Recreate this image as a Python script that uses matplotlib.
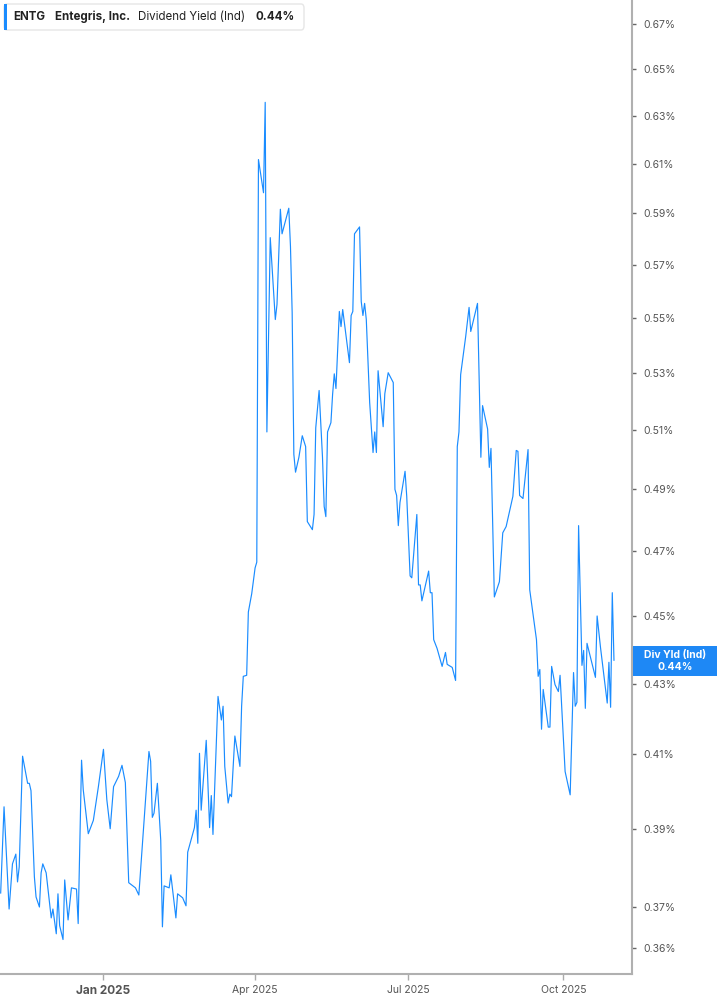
import numpy as np
import pandas as pd
import matplotlib
matplotlib.use('Agg')
import matplotlib.pyplot as plt
import matplotlib.ticker as ticker
from matplotlib.patches import FancyBboxPatch, Rectangle

plt.rcParams['font.family'] = ['Inter', 'DejaVu Sans']

# days counted from 2025-01-01, dividend yield in percent
day_offsets = [
    -61, -59, -56, -54, -52, -51, -50, -48, -45, -44, -43, -41, -40, -38, -37, -36,
    -34, -31, -30, -28, -27, -26, -24, -23, -21, -19, -16, -15, -13, -12, -9, -6,
    -3, 0, 2, 4, 6, 9, 11, 13, 15, 19, 21, 27, 28, 29, 30, 32,
    34, 35, 36, 39, 40, 43, 44, 47, 49, 50, 54, 55, 56, 57, 58, 61,
    63, 64, 65, 68, 70, 71, 72, 74, 75, 76, 78, 81, 82, 83, 85, 86,
    88, 90, 91, 92, 95, 96, 97, 99, 102, 103, 105, 106, 110, 111, 112, 113,
    114, 116, 118, 120, 121, 124, 125, 126, 128, 130, 131, 132, 133, 135, 136, 137,
    138, 140, 141, 142, 146, 147, 148, 149, 152, 153, 154, 155, 156, 158, 160, 161,
    162, 163, 166, 167, 169, 172, 173, 174, 175, 176, 179, 180, 182, 183, 186, 187,
    188, 189, 193, 194, 195, 196, 198, 201, 203, 204, 207, 209, 210, 211, 212, 215,
    217, 218, 222, 224, 225, 228, 229, 230, 232, 235, 237, 239, 243, 245, 246, 247,
    249, 252, 253, 257, 258, 259, 260, 261, 264, 265, 266, 268, 270, 271, 274, 277,
    279, 280, 281, 282, 284, 285, 286, 287, 292, 293, 295, 299, 300, 301, 302, 303,
]
div_yield = [
    0.3735, 0.3958, 0.3695, 0.3809, 0.3834, 0.3763, 0.3801, 0.4095, 0.4021, 0.4021, 0.4001, 0.3776, 0.3725, 0.3700, 0.3786, 0.3809,
    0.3786, 0.3673, 0.3695, 0.3634, 0.3733, 0.3654, 0.3620, 0.3768, 0.3668, 0.3748, 0.3745, 0.3659, 0.4084, 0.4004, 0.3887, 0.3922,
    0.4012, 0.4114, 0.3977, 0.3900, 0.4012, 0.4040, 0.4070, 0.4023, 0.3761, 0.3748, 0.3730, 0.4108, 0.4081, 0.3930, 0.3941, 0.4021,
    0.3870, 0.3651, 0.3753, 0.3748, 0.3781, 0.3673, 0.3733, 0.3723, 0.3703, 0.3839, 0.3903, 0.3949, 0.3862, 0.4103, 0.3949, 0.4139,
    0.3903, 0.3988, 0.3885, 0.4263, 0.4196, 0.4235, 0.4067, 0.3968, 0.3992, 0.3985, 0.4151, 0.4067, 0.4235, 0.4321, 0.4324, 0.4512,
    0.4568, 0.4648, 0.4666, 0.6117, 0.5982, 0.6357, 0.5093, 0.5804, 0.5493, 0.5549, 0.5916, 0.5819, 0.5920, 0.5769, 0.5519, 0.5017,
    0.4957, 0.5007, 0.5080, 0.5043, 0.4795, 0.4769, 0.4818, 0.5107, 0.5237, 0.5007, 0.4844, 0.4811, 0.5093, 0.5125, 0.5223, 0.5296,
    0.5244, 0.5523, 0.5467, 0.5530, 0.5336, 0.5508, 0.5523, 0.5819, 0.5846, 0.5560, 0.5508, 0.5553, 0.5493, 0.5195, 0.5023, 0.5093,
    0.5023, 0.5307, 0.5111, 0.5226, 0.5300, 0.5265, 0.4900, 0.4880, 0.4782, 0.4857, 0.4960, 0.4877, 0.4623, 0.4617, 0.4818, 0.4595,
    0.4595, 0.4546, 0.4638, 0.4571, 0.4571, 0.4429, 0.4403, 0.4350, 0.4391, 0.4356, 0.4347, 0.4309, 0.5043, 0.5093, 0.5293, 0.5431,
    0.5538, 0.5449, 0.5553, 0.5007, 0.5184, 0.5103, 0.4973, 0.5037, 0.4558, 0.4605, 0.4759, 0.4779, 0.4877, 0.5030, 0.5027, 0.4880,
    0.4870, 0.5033, 0.4580, 0.4429, 0.4321, 0.4341, 0.4170, 0.4283, 0.4176, 0.4176, 0.4350, 0.4297, 0.4277, 0.4324, 0.4053, 0.3990,
    0.4332, 0.4235, 0.4246, 0.4782, 0.4353, 0.4397, 0.4229, 0.4418, 0.4318, 0.4500, 0.4406, 0.4244, 0.4362, 0.4232, 0.4571, 0.4368,
]

y_ticks = [0.36, 0.37, 0.39, 0.41, 0.43, 0.45, 0.47, 0.49, 0.51, 0.53, 0.55, 0.57, 0.59, 0.61, 0.63, 0.65, 0.67]
x_tick_dates = ['2025-01-01', '2025-04-01', '2025-07-01', '2025-10-01']
x_tick_labels = ['Jan 2025', 'Apr 2025', 'Jul 2025', 'Oct 2025']

base = pd.Timestamp('2025-01-01')
dates = base + pd.to_timedelta(day_offsets, unit='D')

W, H = 717, 1005
fig = plt.figure(figsize=(W / 100, H / 100), dpi=100)
ax = fig.add_axes([0, 1 - 974 / H, 632 / W, 974 / H])

line_color = '#1a8cff'
ax.plot(dates, div_yield, color=line_color, lw=0.85)

ax.set_yscale('log')
ax.set_ylim(0.3537, 0.681)
ax.set_xlim(base - pd.Timedelta(days=61.4), base + pd.Timedelta(days=313.7))

ax.yaxis.tick_right()
ax.yaxis.set_major_locator(ticker.FixedLocator(y_ticks))
ax.yaxis.set_minor_locator(ticker.NullLocator())
ax.yaxis.set_major_formatter(ticker.FuncFormatter(lambda v, p: f'{v:.2f}%'))
ax.tick_params(axis='y', length=3, width=1, color='#666666', labelsize=7.5,
               labelcolor='#555555', pad=5)

ax.set_xticks(pd.to_datetime(x_tick_dates))
ax.set_xticklabels(x_tick_labels)
ax.tick_params(axis='x', length=4, width=1, color='#aaaaaa', labelsize=7.5,
               labelcolor='#555555', pad=4)
jan = ax.get_xticklabels()[0]
jan.set_fontweight('bold')
jan.set_fontsize(8.5)

for s in ['left', 'top']:
    ax.spines[s].set_visible(False)
for s in ['right', 'bottom']:
    ax.spines[s].set_color('#b0b0b0')
    ax.spines[s].set_linewidth(1.5)

# header box
def fx(px):
    return px / W

def fy(py):
    return 1 - py / H

box = FancyBboxPatch((fx(4), fy(30)), fx(300), 26 / H, transform=fig.transFigure,
                     boxstyle='round,pad=0,rounding_size=0.004', facecolor='white',
                     edgecolor='#e6e6e6', lw=1, zorder=5)
fig.patches.append(box)
fig.patches.append(Rectangle((fx(4), fy(30)), fx(3), 26 / H, transform=fig.transFigure,
                             facecolor=line_color, edgecolor='none', zorder=6))
header = [('ENTG', 13, 'bold'), ('Entegris, Inc.', 55, 'bold'),
          ('Dividend Yield (Ind)', 138, 'normal'), ('0.44%', 256, 'bold')]
for txt, px, wt in header:
    fig.text(fx(px), fy(17), txt, fontsize=8.3, fontweight=wt, color='#222222',
             va='center', ha='left', zorder=7)

# last value label
fig.patches.append(Rectangle((fx(633), fy(676)), fx(84), 30 / H, transform=fig.transFigure,
                             facecolor='#1e88f5', edgecolor='none', zorder=6))
fig.text(fx(675), fy(655), 'Div Yld (Ind)', fontsize=7.5, fontweight='bold', color='white',
         ha='center', va='center', zorder=7)
fig.text(fx(675), fy(667), '0.44%', fontsize=7.5, fontweight='bold', color='white',
         ha='center', va='center', zorder=7)

fig.savefig('out.png', dpi=100)
plt.close('all')
